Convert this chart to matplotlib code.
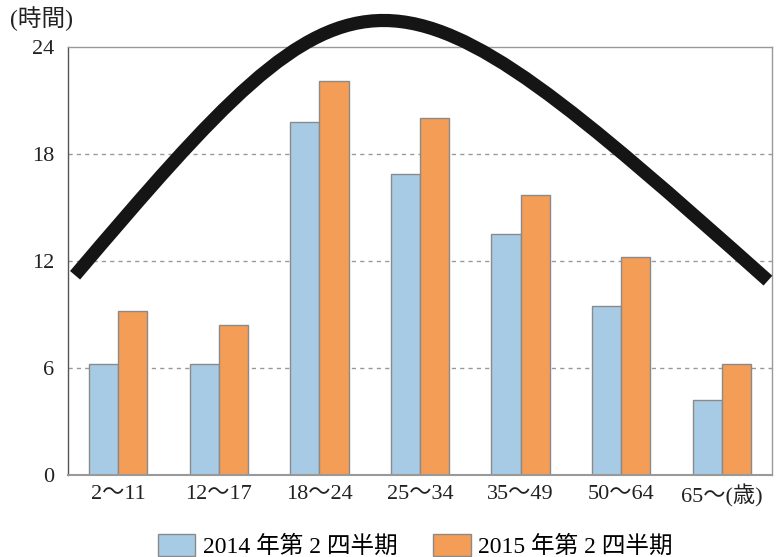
import matplotlib.pyplot as plt
import numpy as np
from matplotlib.path import Path
from matplotlib.patches import PathPatch

plt.rcParams['font.family'] = ['Liberation Serif', 'Noto Sans CJK JP']

# 年齢層ごとの視聴時間
age_groups = ['2～11', '12～17', '18～24', '25～34', '35～49', '50～64', '65～(歳)']
hours_2014 = [6.2, 6.2, 19.8, 16.9, 13.5, 9.5, 4.2]
hours_2015 = [9.2, 8.4, 22.1, 20.0, 15.7, 12.2, 6.2]
series_names = ['2014 年第 2 四半期', '2015 年第 2 四半期']

# 山なりの曲線 (3次ベジェの制御点: x位置, 時間)
arc_x = [-0.43, 2.45, 2.6, 6.46]
arc_y = [11.2, 30.3, 30.3, 10.9]

fig = plt.figure(figsize=(7.8, 5.57), dpi=100)
ax = fig.add_axes([0.0872, 0.1472, 0.9025, 0.7684])

x = np.arange(len(age_groups))
w = 0.29
ax.bar(x - w / 2, hours_2014, w, color='#a7cbe5', edgecolor='#8a8a8a', linewidth=1,
       label=series_names[0], zorder=2)
ax.bar(x + w / 2, hours_2015, w, color='#f49d57', edgecolor='#8a8a8a', linewidth=1,
       label=series_names[1], zorder=2)

arc = Path(list(zip(arc_x, arc_y)), [Path.MOVETO, Path.CURVE4, Path.CURVE4, Path.CURVE4])
ax.add_patch(PathPatch(arc, facecolor='none', edgecolor='#151515', linewidth=9.5,
                       capstyle='butt', clip_on=False, zorder=5))

ax.set_xlim(-0.5, 6.5)
ax.set_ylim(0, 24)
ax.set_yticks([0, 6, 12, 18, 24])
ax.set_xticks(x)
ax.set_xticklabels(age_groups)
ax.tick_params(length=0, labelsize=16, colors='#222222')
ax.tick_params(axis='y', pad=10)
ax.tick_params(axis='x', pad=7)

for yv in [6, 12, 18]:
    ax.axhline(yv, color='#999999', linestyle=(0, (3, 3)), linewidth=1, zorder=1)

for s in ax.spines.values():
    s.set_color('#999999')
    s.set_linewidth(1)
ax.spines['left'].set_color('#555555')
ax.spines['bottom'].set_linewidth(1.5)

fig.text(0.053, 0.967, '(時間)', fontsize=17, ha='center', va='center', color='#222222')

fig.legend(loc='lower center', bbox_to_anchor=(0.532, -0.04), ncol=2, frameon=False,
           fontsize=17, handlelength=1.6, handleheight=1.1, handletextpad=0.3,
           columnspacing=1.5)

fig.savefig('out.png', dpi=100)
